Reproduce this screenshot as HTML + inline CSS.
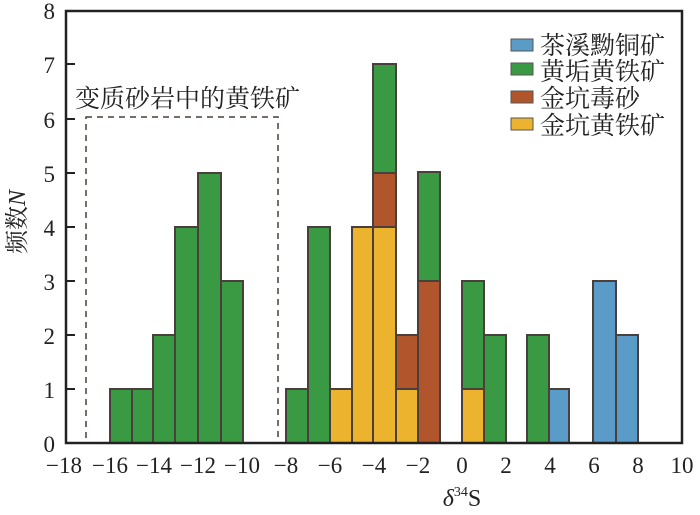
<!DOCTYPE html><html><head><meta charset="utf-8"><style>body{margin:0;background:#fff}svg{display:block}text{font-family:"Liberation Serif","Noto Serif CJK SC",serif}</style></head><body>
<svg width="700" height="515" xmlns="http://www.w3.org/2000/svg">
<g stroke="#4a3f3a" stroke-width="2">
<g fill="#3a9a44">
<rect x="110" y="389" width="22" height="54"/><rect x="132" y="389" width="21" height="54"/>
<rect x="153" y="335" width="22" height="108"/><rect x="175" y="227" width="23" height="216"/>
<rect x="198" y="173" width="23" height="270"/><rect x="221" y="281" width="22" height="162"/>
<rect x="286" y="389" width="22" height="54"/><rect x="308" y="227" width="22" height="216"/>
<rect x="373" y="64" width="23" height="109"/><rect x="418" y="172" width="22" height="109"/>
<rect x="462" y="281" width="22" height="108"/><rect x="484" y="335" width="22" height="108"/>
<rect x="527" y="335" width="22" height="108"/>
</g>
<g fill="#ecb32f">
<rect x="330" y="389" width="22" height="54"/><rect x="352" y="227" width="21" height="216"/>
<rect x="373" y="227" width="23" height="216"/><rect x="396" y="389" width="22" height="54"/>
<rect x="462" y="389" width="22" height="54"/>
</g>
<g fill="#b0552c">
<rect x="373" y="173" width="23" height="54"/><rect x="396" y="335" width="22" height="54"/>
<rect x="418" y="281" width="22" height="162"/>
</g>
<g fill="#5b9bc8">
<rect x="549" y="389" width="20" height="54"/><rect x="593" y="281" width="23" height="162"/>
<rect x="616" y="335" width="22" height="108"/>
</g>
</g>
<rect x="86" y="117" width="192" height="326" fill="none" stroke="#4a3f3a" stroke-width="1.5" stroke-dasharray="6,5"/>
<rect x="66" y="11" width="616" height="432" fill="none" stroke="#222" stroke-width="2.5"/>
<g stroke="#222" stroke-width="2">
<line x1="66" y1="389" x2="75" y2="389"/><line x1="66" y1="335" x2="75" y2="335"/><line x1="66" y1="281" x2="75" y2="281"/>
<line x1="66" y1="227" x2="75" y2="227"/><line x1="66" y1="173" x2="75" y2="173"/><line x1="66" y1="119" x2="75" y2="119"/>
<line x1="66" y1="64" x2="75" y2="64"/>
</g>
<g font-size="23" fill="#222" text-anchor="end">
<text x="55" y="452">0</text><text x="55" y="398">1</text><text x="55" y="344">2</text><text x="55" y="290">3</text>
<text x="55" y="236">4</text><text x="55" y="182">5</text><text x="55" y="128">6</text><text x="55" y="73">7</text><text x="55" y="19">8</text>
</g>
<g font-size="23" fill="#222" text-anchor="middle">
<text x="64" y="473">−18</text><text x="110" y="473">−16</text><text x="154" y="473">−14</text><text x="198" y="473">−12</text>
<text x="242" y="473">−10</text><text x="286" y="473">−8</text><text x="330" y="473">−6</text><text x="374" y="473">−4</text>
<text x="418" y="473">−2</text><text x="462" y="473">0</text><text x="506" y="473">2</text><text x="550" y="473">4</text>
<text x="594" y="473">6</text><text x="638" y="473">8</text><text x="682" y="473">10</text>
</g>
<text x="462" y="506" font-size="24" fill="#222" text-anchor="middle"><tspan font-style="italic">δ</tspan><tspan font-size="14" dy="-10">34</tspan><tspan dy="10">S</tspan></text>
<text transform="translate(25,222) rotate(-90)" font-size="24" fill="#222" text-anchor="middle">频数<tspan font-style="italic">N</tspan></text>
<text x="75" y="107" font-size="25" fill="#222">变质砂岩中的黄铁矿</text>
<g stroke="#555" stroke-width="1">
<rect x="511" y="39" width="22" height="12" fill="#5b9bc8"/>
<rect x="511" y="63" width="22" height="12" fill="#3a9a44"/>
<rect x="511" y="91" width="22" height="12" fill="#b0552c"/>
<rect x="511" y="118" width="22" height="12" fill="#ecb32f"/>
</g>
<g font-size="25" fill="#222">
<text x="540" y="54">茶溪黝铜矿</text><text x="540" y="80">黄垢黄铁矿</text>
<text x="540" y="107">金坑毒砂</text><text x="540" y="134">金坑黄铁矿</text>
</g>
</svg>
</body></html>
